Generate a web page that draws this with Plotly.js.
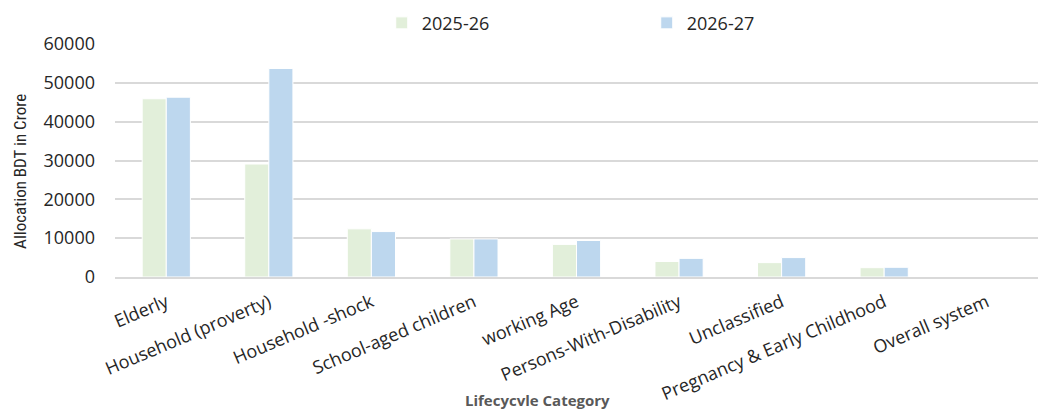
<!DOCTYPE html>
<html>
<head>
<meta charset="utf-8">
<script src="https://cdn.plot.ly/plotly-3.0.1.min.js"></script>
<style>html,body{margin:0;padding:0;background:#fff;}#chart{width:1039px;height:409px;}</style>
</head>
<body>
<div id="chart"></div>
<script>
const categories = ["Elderly", "Household (proverty)", "Household -shock", "School-aged children", "working Age", "Persons-With-Disability", "Unclassified", "Pregnancy & Early Childhood", "Overall system"];
const values2025 = [45900, 29100, 12400, 9800, 8400, 4000, 3700, 2400, 0];
const values2026 = [46300, 53700, 11700, 9800, 9400, 4800, 5000, 2500, 0];
const seriesNames = ["2025-26", "2026-27"];
const yTicks = [0, 10000, 20000, 30000, 40000, 50000, 60000];
const xTitle = "Lifecycvle Category";
const yTitle = "Allocation BDT in Crore";

const font = "Open Sans, Noto Sans, sans-serif";
const traces = [
  {type: "bar", name: seriesNames[0], x: categories, y: values2025,
   marker: {color: "#e2efda", line: {color: "#ffffff", width: 1}}},
  {type: "bar", name: seriesNames[1], x: categories, y: values2026,
   marker: {color: "#bdd7ee", line: {color: "#ffffff", width: 1}}}
];
const layout = {
  width: 1039, height: 409,
  margin: {l: 115, r: 1, t: 44, b: 132},
  paper_bgcolor: "#ffffff", plot_bgcolor: "#ffffff",
  barmode: "group", bargap: 0.53, bargroupgap: 0,
  showlegend: true,
  legend: {orientation: "h", x: 0.289, xanchor: "left", y: 1.01, yanchor: "bottom",
           font: {family: font, size: 18, color: "#262626"},
           entrywidth: 220, entrywidthmode: "pixels"},
  xaxis: {
    tickangle: -23, tickfont: {family: font, size: 18, color: "#262626"},
    showgrid: false, showline: true, linecolor: "#d9d9d9", linewidth: 2,
    ticks: "", ticklabelstandoff: 6, automargin: false
  },
  yaxis: {
    range: [0, 60000], tickvals: yTicks, ticktext: yTicks.map(String),
    tickfont: {family: font, size: 18, color: "#262626"},
    showgrid: true, gridcolor: "#d9d9d9", gridwidth: 2,
    zeroline: false, showline: false, ticks: "", ticklabelstandoff: 19,
    automargin: false
  },
  annotations: [
    {text: "<b>" + xTitle + "</b>", xref: "paper", yref: "paper", x: 0.458, y: -0.528,
     xanchor: "center", yanchor: "middle", showarrow: false,
     font: {family: font, size: 15, color: "#595959"}},
    {text: yTitle, xref: "paper", yref: "paper", x: -0.103, y: 0.455, textangle: -90,
     xanchor: "center", yanchor: "middle", showarrow: false,
     font: {family: "Liberation Sans Narrow, Roboto Condensed, Liberation Sans, sans-serif", size: 17, color: "#262626"}}
  ]
};
Plotly.newPlot("chart", traces, layout, {displayModeBar: false, staticPlot: true});
</script>
</body>
</html>
